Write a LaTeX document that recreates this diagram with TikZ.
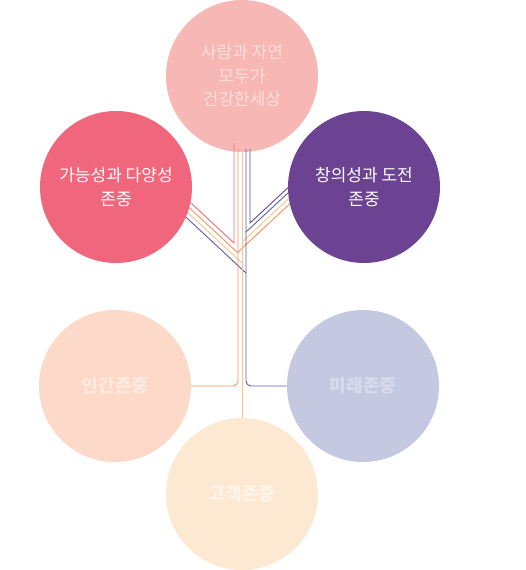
\documentclass[tikz,border=0pt]{standalone}
\usepackage{fontspec}
\setmainfont{Noto Sans CJK KR}
\usetikzlibrary{calc}

\definecolor{topC}{HTML}{F7B7B4}
\definecolor{leftC}{HTML}{F0677D}
\definecolor{rightC}{HTML}{6C4392}
\definecolor{humanC}{HTML}{FDD9C9}
\definecolor{futureC}{HTML}{C5C8E1}
\definecolor{clientC}{HTML}{FDE9D2}
\definecolor{lineRed}{HTML}{F06A7C}
\definecolor{lineOrange}{HTML}{F7925A}
\definecolor{lineYellow}{HTML}{FBC48A}
\definecolor{lineBlue}{HTML}{5A5FA8}
\definecolor{linePurple}{HTML}{6A4592}

\begin{document}
\begin{tikzpicture}[x=1pt,y=-1pt,
    ball/.style={circle, minimum size=152pt, inner sep=0pt, align=center,
      font=\fontsize{17}{23.5}\selectfont},
    boldball/.style={ball, font=\fontsize{18}{23}\selectfont\bfseries},
    wire/.style={line width=0.9pt}]
  \useasboundingbox (0,0) rectangle (525,570);
  % top circle sits under the wires
  \node[ball, fill=topC, text=white!55!topC] (Top) at (242,76) {사람과 자연\\모두가\\건강한세상};
  % junctions
  \coordinate (jR) at (234,243);
  \coordinate (jLO) at (238,253);
  \coordinate (jLY) at (242,263);
  \coordinate (jLB) at (246,273);
  \coordinate (jP) at (250,223);
  \coordinate (jRB) at (246,232);
  \coordinate (jRY) at (242,242);
  \coordinate (jRO) at (238,252);
  % wires
  \draw[wire, lineRed] (170,183.5) -- (jR) -- (234,143);
  \draw[wire, lineOrange] (170,189.8) -- (jLO);
  \draw[wire, lineYellow] (170,196) -- (jLY);
  \draw[wire, lineBlue] (170,202.3) -- (jLB);
  \draw[wire, linePurple] (310,167.2) -- (jP) -- (250,149);
  \draw[wire, lineBlue] (310,172.5) -- (jRB);
  \draw[wire, lineYellow] (310,178.8) -- (jRY);
  \draw[wire, lineOrange] (310,185) -- (jRO);
  \draw[wire, lineOrange, rounded corners=5pt] (238,149) -- (238,386) -- (185,386);
  \draw[wire, lineYellow] (242,149) -- (242,425);
  \draw[wire, lineBlue, rounded corners=5pt] (246,149) -- (246,386) -- (295,386);
  % circles on top of the wire ends
  \node[ball, fill=leftC, text=white] (Left) at (116,187) {가능성과 다양성\\존중};
  \node[ball, fill=rightC, text=white] (Right) at (364,187) {창의성과 도전\\존중};
  \node[boldball, fill=humanC, text=white!45!humanC] (Human) at (115,386) {인간존중};
  \node[boldball, fill=futureC, text=white!35!futureC] (Future) at (363,386) {미래존중};
  \node[boldball, fill=clientC, text=white!50!clientC] (Client) at (242,494) {고객존중};
\end{tikzpicture}
\end{document}
